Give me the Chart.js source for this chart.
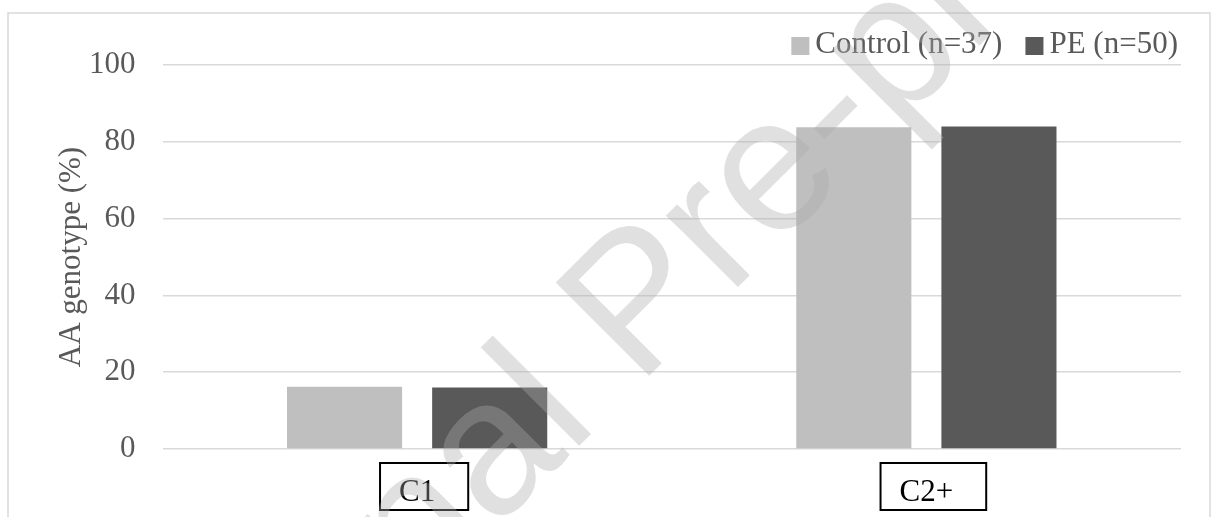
<!DOCTYPE html>
<html>
<head>
<meta charset="utf-8">
<script src="https://cdn.jsdelivr.net/npm/chart.js@4"></script>
<style>
  body { margin: 0; background: #fff; }
  #wrap { width: 1214px; height: 517px; }
</style>
</head>
<body>
<div id="wrap"><canvas id="chart"></canvas></div>
<script>
const categories = ["C1", "C2+"];
const controlValues = [16.2, 83.8];
const peValues = [16.0, 84.0];
const seriesLabels = ["Control (n=37)", "PE (n=50)"];
const seriesColors = ["#bfbfbf", "#595959"];
const yTicks = [0, 20, 40, 60, 80, 100];

const serif = "'Liberation Serif', 'Times New Roman', serif";

// grey frame round the chart
const framePlugin = {
  id: "frame",
  beforeDraw(chart) {
    const ctx = chart.ctx;
    ctx.save();
    ctx.fillStyle = "#fff";
    ctx.fillRect(0, 0, chart.width, chart.height);
    ctx.strokeStyle = "#d9d9d9";
    ctx.lineWidth = 1.5;
    ctx.strokeRect(8, 13, 1202, 600);
    ctx.restore();
  },
};

// legend drawn by hand so the spacing matches
const legendPlugin = {
  id: "customLegend",
  afterDraw(chart) {
    const ctx = chart.ctx;
    ctx.save();
    ctx.font = "31px " + serif;
    ctx.textBaseline = "middle";
    let right = 1178;
    const y = 45;
    const items = chart.data.datasets.slice().reverse();
    items.forEach((ds) => {
      const w = ctx.measureText(ds.label).width;
      const textX = right - w;
      ctx.fillStyle = "#595959";
      ctx.fillText(ds.label, textX, y);
      ctx.fillStyle = ds.backgroundColor;
      ctx.fillRect(textX - 6 - 18, y - 8, 18, 18);
      right = textX - 6 - 18 - 23;
    });
    ctx.restore();
  },
};

// boxes round the category labels
const labelBoxPlugin = {
  id: "labelBoxes",
  afterDraw(chart) {
    const ctx = chart.ctx;
    const xs = chart.scales.x;
    ctx.save();
    ctx.font = "31px " + serif;
    ctx.strokeStyle = "#000";
    ctx.lineWidth = 2;
    xs.ticks.forEach((t, i) => {
      const cx = xs.getPixelForTick(i);
      const w = ctx.measureText(categories[i]).width;
      ctx.strokeRect(cx - w / 2 - 19, 463, w + 19 + 33, 47);
    });
    ctx.restore();
  },
};

// "Journal Pre-proof" watermark
const watermarkPlugin = {
  id: "watermark",
  afterDraw(chart) {
    const ctx = chart.ctx;
    ctx.save();
    ctx.translate(155, 870);
    ctx.rotate(-Math.PI / 4);
    ctx.font = "192px 'Liberation Sans', Arial, sans-serif";
    ctx.fillStyle = "rgba(171,171,171,0.37)";
    ctx.textBaseline = "alphabetic";
    ctx.fillText("Journal Pre-proof", 0, 0);
    ctx.restore();
  },
};

new Chart(document.getElementById("chart"), {
  type: "bar",
  data: {
    labels: categories,
    datasets: [
      {
        label: seriesLabels[0],
        data: controlValues,
        backgroundColor: seriesColors[0],
        borderWidth: 0,
      },
      {
        label: seriesLabels[1],
        data: peValues,
        backgroundColor: seriesColors[1],
        borderWidth: 0,
      },
    ],
  },
  options: {
    responsive: true,
    maintainAspectRatio: false,
    animation: false,
    devicePixelRatio: 1,
    categoryPercentage: 0.57,
    barPercentage: 0.793,
    layout: { padding: { left: 49, right: 33, top: 65, bottom: 0 } },
    plugins: {
      legend: { display: false },
      tooltip: { enabled: false },
    },
    scales: {
      x: {
        grid: { display: false },
        border: { display: false },
        ticks: {
          font: { family: serif, size: 31 },
          color: "#000",
          padding: 17,
        },
        afterFit: (s) => { s.height = 68; },
      },
      y: {
        min: 0,
        max: 100,
        afterBuildTicks: (s) => { s.ticks = yTicks.map((v) => ({ value: v })); },
        grid: { color: "#d9d9d9", lineWidth: 1.5, drawTicks: false },
        border: { display: false },
        ticks: {
          font: { family: serif, size: 31 },
          color: "#595959",
          padding: 27,
        },
        title: {
          display: true,
          text: "AA genotype (%)",
          font: { family: serif, size: 31 },
          color: "#595959",
        },
        afterFit: (s) => { s.width = 113.5; },
      },
    },
  },
  plugins: [framePlugin, legendPlugin, labelBoxPlugin, watermarkPlugin],
});
</script>
</body>
</html>
